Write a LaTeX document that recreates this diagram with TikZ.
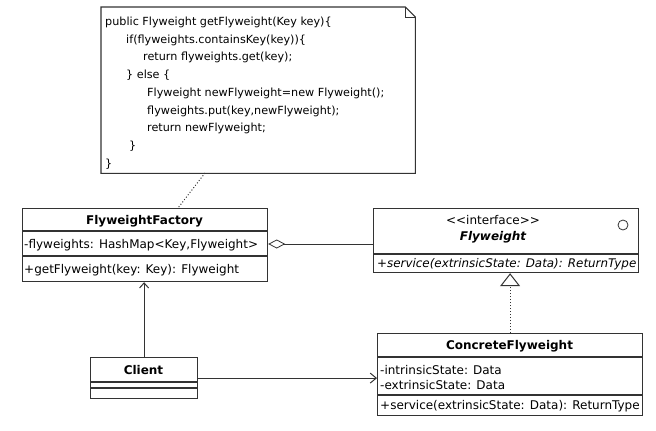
\documentclass[tikz,border=0pt]{standalone}
\usepackage{fontspec}
\setmainfont{DejaVu Sans}
\usetikzlibrary{arrows.meta}
\definecolor{lc}{HTML}{333333}
\begin{document}
\begin{tikzpicture}[x=1pt,y=-1pt,
  boxst/.style={draw=lc, fill=white, line width=1.2pt, inner sep=0pt, anchor=north west},
  txt/.style={inner sep=0pt, text height=10pt, text depth=2pt, font=\fontsize{12}{14}\selectfont},
  code/.style={txt, anchor=west, font=\fontsize{11.2}{14}\selectfont},
  ln/.style={draw=lc, line width=1.1pt}]
\useasboundingbox (0,0) rectangle (656,431);
% note
\node[inner sep=0pt, minimum width=314pt, minimum height=166pt, anchor=north west] (note) at (101,7) {};
\draw[ln, fill=white] (note.north west) -- ([xshift=-10pt]note.north east) -- ([yshift=-10pt]note.north east) -- (note.south east) -- (note.south west) -- cycle;
\draw[draw=lc, line width=0.8pt] ([xshift=-10pt]note.north east) -- ([xshift=-10pt,yshift=-10pt]note.north east) -- ([yshift=-10pt]note.north east);
\node[code] (c1) at (105,21.5) {public Flyweight getFlyweight(Key key)\{};
\node[code] (c2) at (126,39.2) {if(flyweights.containsKey(key))\{};
\node[code] (c3) at (143,56.9) {return flyweights.get(key);};
\node[code] (c4) at (126,74.6) {\} else \{};
\node[code] (c5) at (147,92.3) {Flyweight newFlyweight=new Flyweight();};
\node[code] (c6) at (147,110) {flyweights.put(key,newFlyweight);};
\node[code] (c7) at (147,127.7) {return newFlyweight;};
\node[code] (c8) at (129,145.4) {\}};
\node[code] (c9) at (105,163.1) {\}};
% FlyweightFactory
\node[boxst, minimum width=245pt, minimum height=73pt] (ff) at (22,208) {};
\draw[ln] (22,231) -- (267,231);
\draw[ln] (22,256) -- (267,256);
\node[txt, font=\fontsize{12}{14}\selectfont\bfseries] (fft) at (144.5,220) {FlyweightFactory};
\node[txt, anchor=west] (ffa) at (24,244) {-flyweights: HashMap<Key,Flyweight>};
\node[txt, anchor=west] (ffm) at (24,269) {+getFlyweight(key: Key): Flyweight};
% Flyweight interface
\node[boxst, minimum width=265pt, minimum height=64pt] (fw) at (373,208) {};
\draw[ln] (373,254) -- (638,254);
\node[txt] (fws) at (493,220) {<{}<interface>{}>};
\node[txt, font=\fontsize{12}{14}\selectfont\bfseries\itshape] (fwn) at (493,236) {Flyweight};
\node[draw=lc, line width=0.8pt, circle, minimum size=10pt, inner sep=0pt] (fwc) at (623,225) {};
\node[txt, anchor=west, font=\fontsize{11.9}{14}\selectfont\itshape] (fwm) at (377,263) {+service(extrinsicState: Data): ReturnType};
% ConcreteFlyweight
\node[boxst, minimum width=265pt, minimum height=82pt] (cf) at (377,333) {};
\draw[ln] (377,357) -- (642,357);
\draw[ln] (377,395) -- (642,395);
\node[txt, font=\fontsize{12}{14}\selectfont\bfseries] (cft) at (509.5,345) {ConcreteFlyweight};
\node[txt, anchor=west] (cfa1) at (380,370) {-intrinsicState: Data};
\node[txt, anchor=west] (cfa2) at (380,385) {-extrinsicState: Data};
\node[txt, anchor=west] (cfm) at (380,405) {+service(extrinsicState: Data): ReturnType};
% Client
\node[boxst, minimum width=107pt, minimum height=41pt] (cl) at (90,357) {};
\draw[ln] (90,382) -- (197,382);
\draw[ln] (90,388) -- (197,388);
\node[txt, font=\fontsize{12}{14}\selectfont\bfseries] (clt) at (143.5,370) {Client};
% connectors
\coordinate (nd) at (205,173);
\coordinate (fd) at (178,208);
\draw[draw=lc, line width=1pt, dotted] (nd) -- (fd);
\draw[draw=lc, line width=0.8pt, {Diamond[open, length=17pt, width=9pt, line width=0.8pt]}-] (ff.east |- ffa) -- (fw.west |- ffa);
\draw[ln, -{Straight Barb[length=5pt, width=9pt, line width=1pt]}] (cl.north) -- (cl.north |- ff.south);
\draw[ln, -{Straight Barb[length=6pt, width=10pt, line width=1pt]}] (cl.east) -- (cf.west |- cl.east);
\draw[draw=lc, line width=1pt, dotted, -{Triangle[open, length=13pt, width=20pt, line width=1pt]}] (cf.north) -- (cf.north |- fw.south);
\end{tikzpicture}
\end{document}
